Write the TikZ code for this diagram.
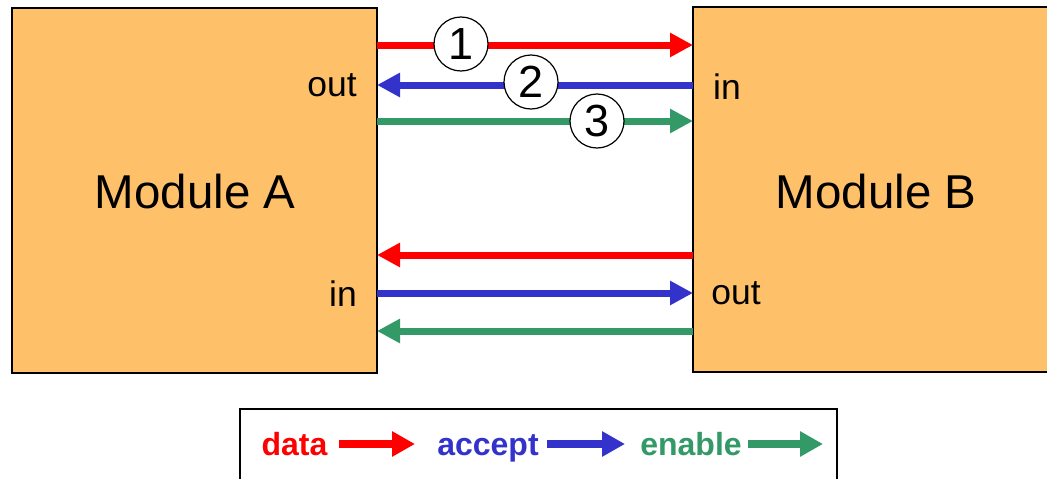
\documentclass[tikz,border=0pt]{standalone}
\usepackage{fontspec}
\setmainfont{Liberation Sans}
\usetikzlibrary{arrows.meta}
\definecolor{cred}{HTML}{FF0000}
\definecolor{cblue}{HTML}{3333CC}
\definecolor{cgreen}{HTML}{339966}
\definecolor{corange}{HTML}{FFC06A}
\tikzset{
  module/.style={draw=black,line width=1.5pt,fill=corange,outer sep=0pt,inner sep=0pt},
  sig/.style={line width=7pt,-{Triangle[length=23pt,width=23pt]}},
  legsig/.style={line width=8pt,-{Triangle[length=23pt,width=24pt]}},
  num/.style={circle,draw=black,line width=1.2pt,fill=white,minimum size=54pt,inner sep=0pt,font=\fontsize{45}{48}\selectfont},
  port/.style={inner sep=0pt,font=\fontsize{35.5}{38}\selectfont},
  big/.style={inner sep=0pt,font=\fontsize{47.5}{50}\selectfont},
  leg/.style={inner sep=0pt,anchor=base,font=\fontsize{32}{36}\selectfont\bfseries}
}
\begin{document}
\begin{tikzpicture}[x=1pt,y=-1pt]
\useasboundingbox (0,0) rectangle (1047,479);
\clip (0,0) rectangle (1047,479);
\fill[white] (0,0) rectangle (1047,479);
\node[module,minimum width=365pt,minimum height=365pt] (A) at (194.5,190.5) {};
\node[module,minimum width=365pt,minimum height=365pt] (B) at (875.5,189.5) {};
\node[big] (An) at (195,192) {Module A};
\node[big] (Bn) at (876,192) {Module B};
\node[port] (Aout) at (332,85) {out};
\node[port] (Ain) at (343,294) {in};
\node[port] (Bin) at (727,87) {in};
\node[port] (Bout) at (736,293) {out};
% signal rows
\coordinate (y1) at (0,45);
\coordinate (y2) at (0,85);
\coordinate (y3) at (0,121);
\coordinate (y4) at (0,255);
\coordinate (y5) at (0,293);
\coordinate (y6) at (0,331);
\draw[sig,draw=cred,fill=cred] (A.east |- y1) -- (B.west |- y1);
\draw[sig,draw=cblue,fill=cblue] (B.west |- y2) -- (A.east |- y2);
\draw[sig,draw=cgreen,fill=cgreen] (A.east |- y3) -- (B.west |- y3);
\draw[sig,draw=cred,fill=cred] (B.west |- y4) -- (A.east |- y4);
\draw[sig,draw=cblue,fill=cblue] (A.east |- y5) -- (B.west |- y5);
\draw[sig,draw=cgreen,fill=cgreen] (B.west |- y6) -- (A.east |- y6);
\node[num] (n1) at (461,44) {1};
\node[num] (n2) at (531,82) {2};
\node[num] (n3) at (597,121) {3};
% legend
\node[draw=black,line width=1.5pt,minimum width=597pt,minimum height=90pt,inner sep=0pt] (L) at (538.5,454) {};
\node[leg,text=cred] (ld) at (294.5,455) {data};
\node[leg,text=cblue] (la) at (488,455) {accept};
\node[leg,text=cgreen] (le) at (691,455) {enable};
\coordinate (ad) at (415,444);
\coordinate (aa) at (625,444);
\coordinate (ae) at (823,444);
\draw[legsig,draw=cred,fill=cred] ([xshift=11pt]ld.east |- ad) -- (ad);
\draw[legsig,draw=cblue,fill=cblue] ([xshift=8pt]la.east |- aa) -- (aa);
\draw[legsig,draw=cgreen,fill=cgreen] ([xshift=6pt]le.east |- ae) -- (ae);
\end{tikzpicture}
\end{document}
